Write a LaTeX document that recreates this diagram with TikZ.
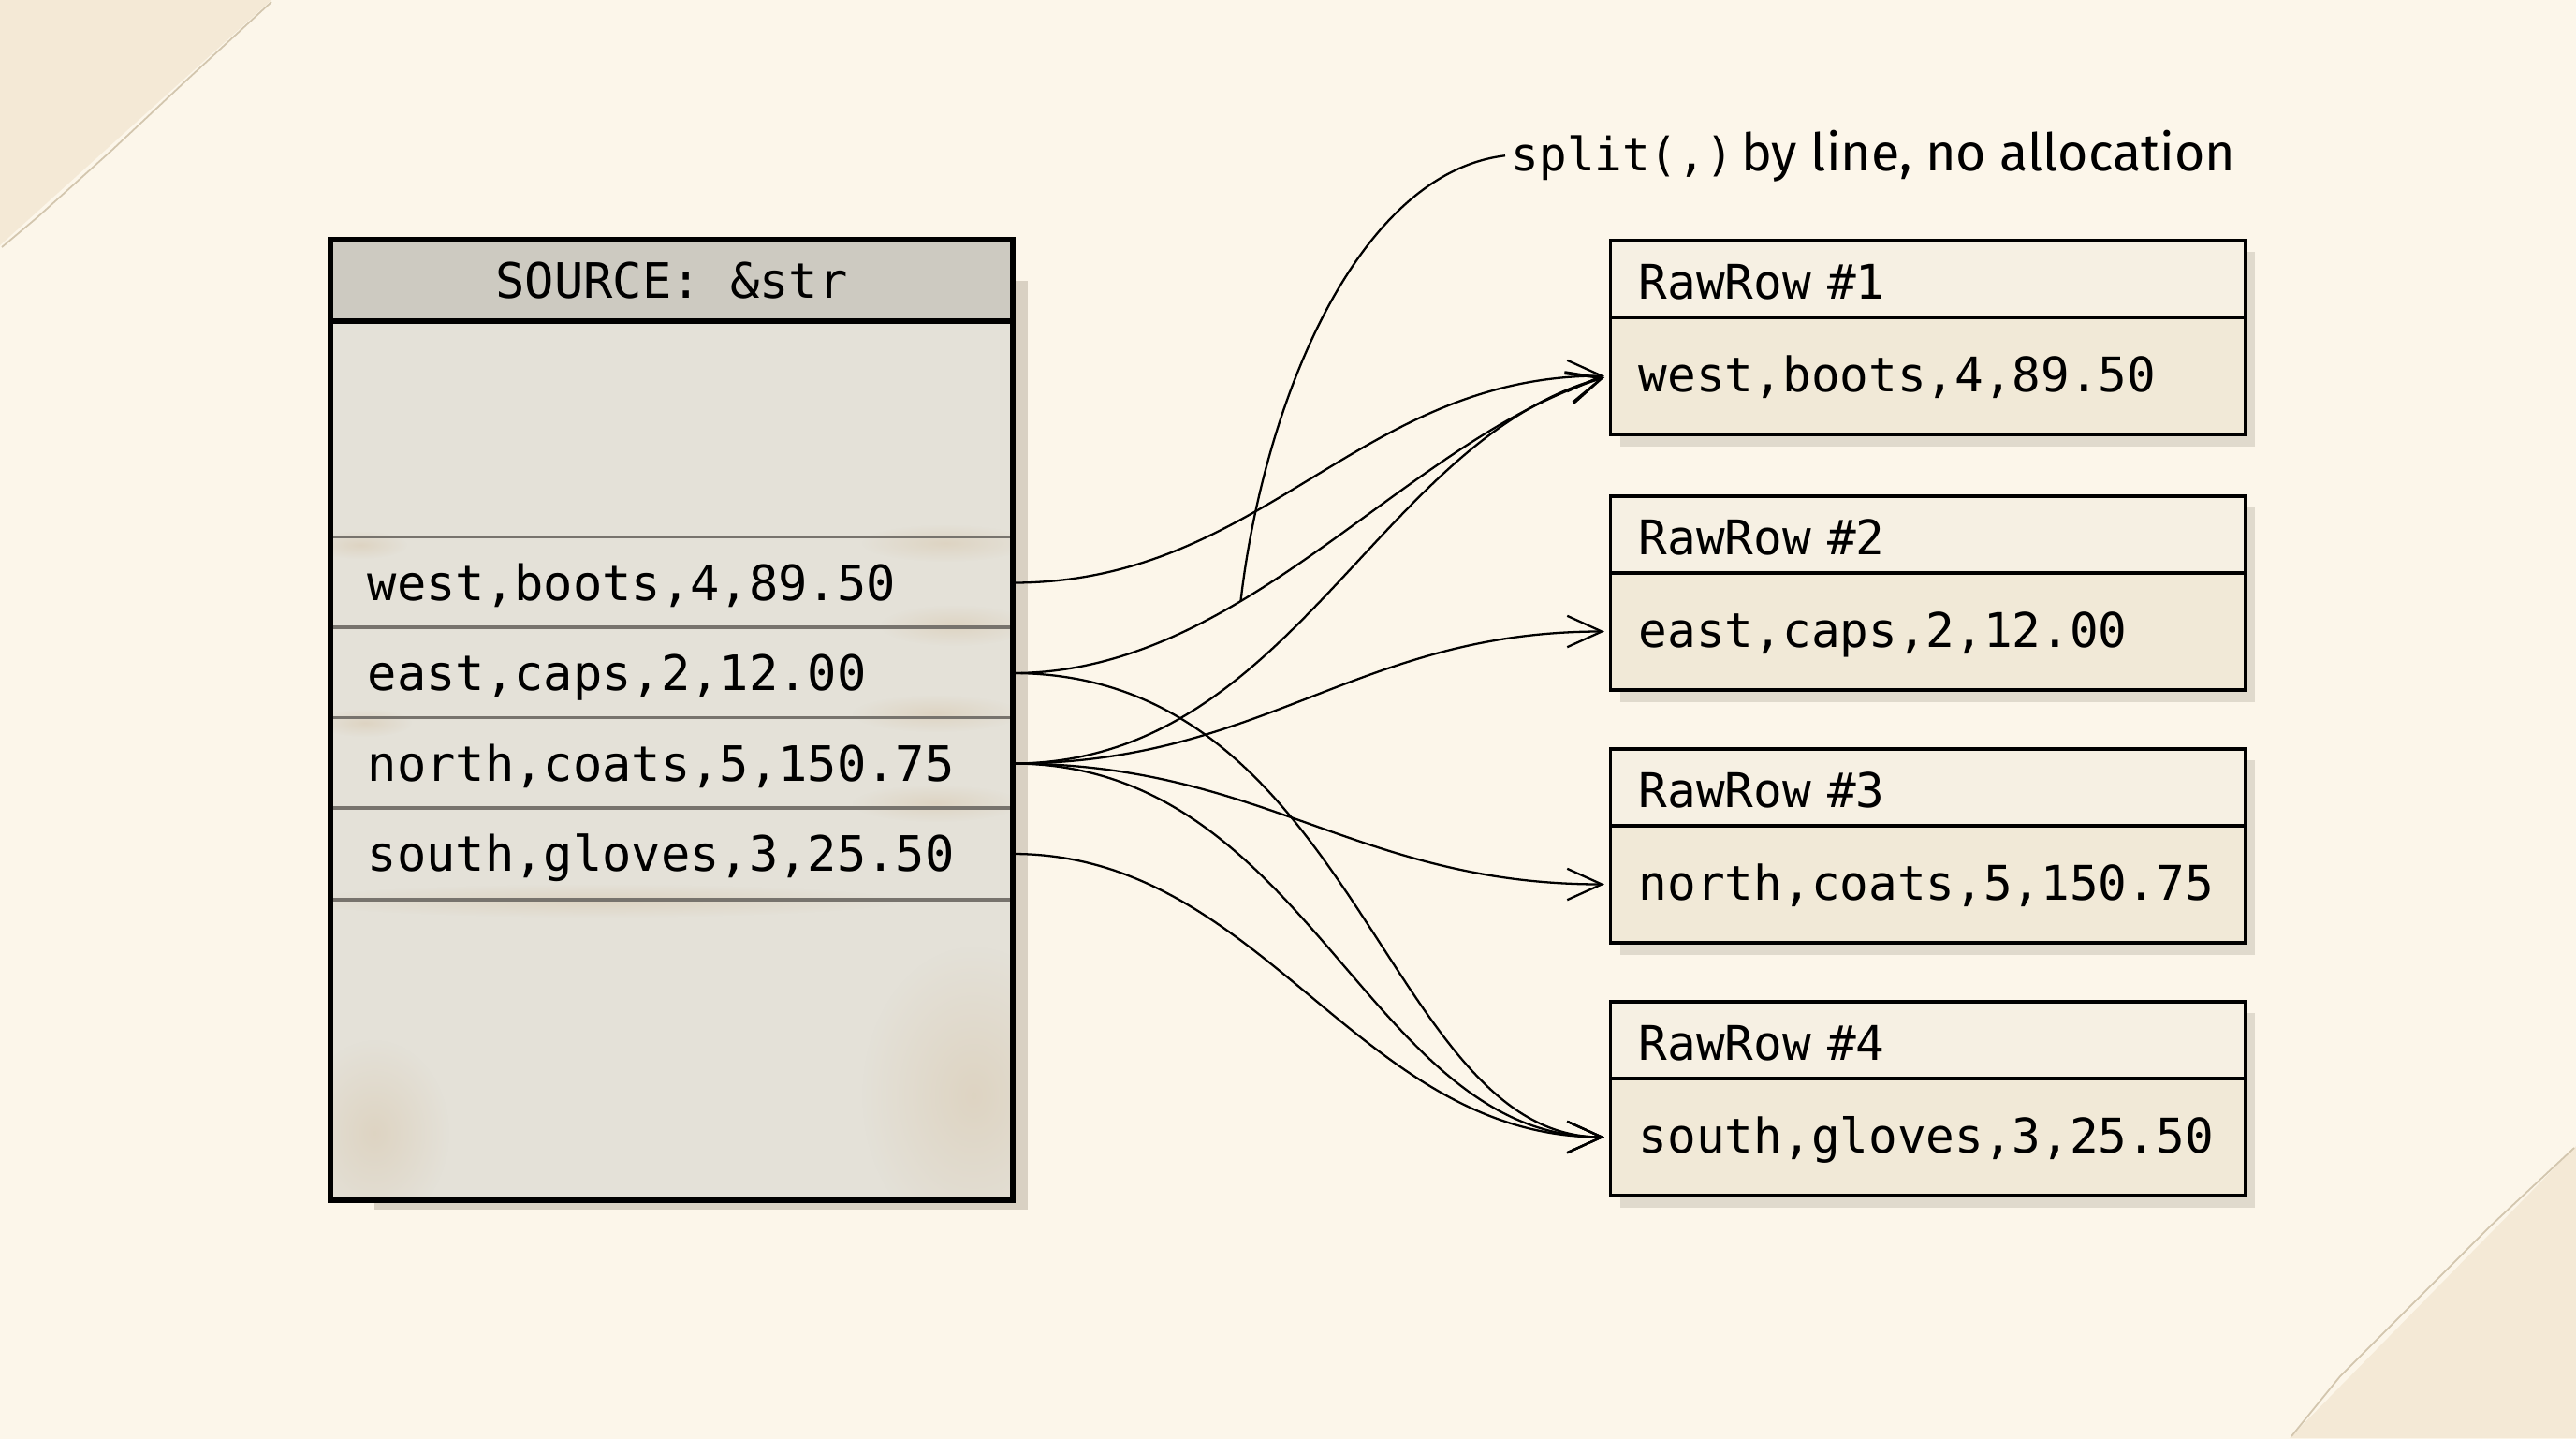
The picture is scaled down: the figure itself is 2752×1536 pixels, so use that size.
\documentclass[tikz,border=0pt]{standalone}
\usepackage{fontspec}
\setmonofont{DejaVu Sans Mono}
\newfontfamily\annsans{Fira Sans}
\usetikzlibrary{arrows.meta,fadings}
\definecolor{paperc}{HTML}{FCF6EA}
\definecolor{papere}{HTML}{F3E8D3}
\definecolor{paperk}{HTML}{E6D6B8}
\definecolor{foldc}{HTML}{EBDBBE}
\definecolor{creasec}{HTML}{D3C6AE}
\definecolor{srcbody}{HTML}{E4E1D8}
\definecolor{srchead}{HTML}{CDCAC1}
\definecolor{rowline}{HTML}{77736D}
\definecolor{stain}{HTML}{C8A676}
\definecolor{rawhead}{HTML}{F6F0E3}
\definecolor{rawdata}{HTML}{F1E9D7}
\definecolor{shadowc}{HTML}{D9D3C6}
\definecolor{srcshadow}{HTML}{D9D1C3}
\pgfdeclareradialshading{paper}{\pgfpoint{0bp}{0bp}}{color(0bp)=(paperc); color(38bp)=(paperc); color(50bp)=(papere); color(71bp)=(paperk)}
\tikzfading[name=fuzzy, inner color=transparent!0, outer color=transparent!100]
\tikzset{
  monofont/.style={font=\fontsize{14.8pt}{17pt}\selectfont\ttfamily},
  rawfont/.style={font=\fontsize{14.5pt}{17pt}\selectfont\ttfamily},
  rowcell/.style={monofont, minimum width=7.27cm, minimum height=0.965cm, inner xsep=0.39cm, inner ysep=0pt,
     text width=6.49cm, align=left, text height=0.53cm, text depth=0.16cm},
  srchd/.style={monofont, fill=srchead, minimum width=7.27cm, minimum height=0.85cm, inner sep=0pt,
     text height=0.53cm, text depth=0.16cm},
  rawhd/.style={rawfont, draw, line width=0.9pt, fill=rawhead, minimum width=6.77cm, minimum height=0.82cm,
     inner xsep=0.3cm, inner ysep=0pt, text width=6.17cm, align=left, text height=0.58cm, text depth=0.16cm},
  rawdt/.style={rawfont, draw, line width=0.9pt, fill=rawdata, minimum width=6.77cm, minimum height=1.25cm,
     inner xsep=0.3cm, inner ysep=0pt, text width=6.17cm, align=left, text height=0.49cm, text depth=0.16cm},
  conn/.style={draw, line width=0.65pt, -{Straight Barb[length=10.5pt,width=9.5pt]}, shorten >=1.5pt},
  leader/.style={draw, line width=0.65pt},
  sep/.style={draw=rowline, line width=0.9pt},
  frame/.style={draw, line width=1.6pt},
  stainblob/.style={fill=stain, opacity=0.22, path fading=fuzzy},
  shadowbox/.style={fill=shadowc, opacity=0.8},
}
\begin{document}
\begin{tikzpicture}[x=0.01cm,y=-0.01cm]
% paper
\useasboundingbox (0,0) rectangle (2752,1536);
\shade[shading=paper] (0,0) rectangle (2752,1536);
\fill[foldc, opacity=0.45] (0,0) -- (290,0) -- (0,262) -- cycle;
\fill[foldc, opacity=0.45] (2752,1224) -- (2752,1536) -- (2446,1536) -- cycle;
\draw[creasec, line width=0.5pt] (290,2) -- (200,85) -- (120,160) -- (40,232) -- (2,264);
\draw[creasec, line width=0.5pt] (2750,1226) -- (2660,1310) -- (2580,1390) -- (2500,1470) -- (2448,1534);

% source box
\fill[srcshadow] (1081,300) rectangle (1098,1292);
\fill[srcshadow] (400,1281) rectangle (1098,1292);
\node[fill=srcbody, minimum width=7.27cm, minimum height=10.24cm, inner sep=0pt] (src) at (717.5,769) {};
\begin{scope}
\clip (src.north west) rectangle (src.south east);
\fill[stainblob] (1010,580) ellipse [x radius=0.9cm, y radius=0.2cm];
\fill[stainblob] (385,582) ellipse [x radius=0.5cm, y radius=0.15cm];
\fill[stainblob] (1020,668) ellipse [x radius=0.8cm, y radius=0.22cm];
\fill[stainblob] (1000,762) ellipse [x radius=0.9cm, y radius=0.2cm];
\fill[stainblob] (390,772) ellipse [x radius=0.5cm, y radius=0.15cm];
\fill[stainblob] (1000,858) ellipse [x radius=0.9cm, y radius=0.2cm];
\fill[stainblob] (640,962) ellipse [x radius=3.2cm, y radius=0.18cm];
\fill[stainblob] (1040,1170) ellipse [x radius=1.2cm, y radius=1.6cm];
\fill[stainblob] (400,1210) ellipse [x radius=0.8cm, y radius=1.0cm];
\end{scope}
\node[srchd] (srch) at (717.5,299.5) {SOURCE: \&str};
\node[rowcell] (r1) at (717.5,622.5) {west,boots,4,89.50};
\node[rowcell] (r2) at (717.5,719) {east,caps,2,12.00};
\node[rowcell] (r3) at (717.5,815.5) {north,coats,5,150.75};
\node[rowcell] (r4) at (717.5,912) {south,gloves,3,25.50};
\draw[sep] (r1.north west) -- (r1.north east);
\draw[sep] (r2.north west) -- (r2.north east);
\draw[sep] (r3.north west) -- (r3.north east);
\draw[sep] (r4.north west) -- (r4.north east);
\draw[sep] (r4.south west) -- (r4.south east);
\draw[frame] (srch.south west) -- (srch.south east);
\draw[frame] (src.north west) rectangle (src.south east);

% RawRow boxes
\foreach \T in {257,530,800,1070} {
  \fill[shadowbox] (1731,\T+12) rectangle (2409,\T+220);
}
\node[rawhd] (h1) at (2059.5,298) {RawRow \#1};
\node[rawdt] (d1) at (2059.5,401.5) {west,boots,4,89.50};
\node[rawhd] (h2) at (2059.5,571) {RawRow \#2};
\node[rawdt] (d2) at (2059.5,674.5) {east,caps,2,12.00};
\node[rawhd] (h3) at (2059.5,841) {RawRow \#3};
\node[rawdt] (d3) at (2059.5,944.5) {north,coats,5,150.75};
\node[rawhd] (h4) at (2059.5,1111) {RawRow \#4};
\node[rawdt] (d4) at (2059.5,1214.5) {south,gloves,3,25.50};

% connectors
\draw[conn] (r1.east) .. controls (1350,622.5) and (1450,401.5) .. (d1.west);
\draw[conn] (r2.east) .. controls (1330,719) and (1500,470) .. coordinate[pos=0.36] (lj) (d1.west);
\draw[conn] (r3.east) .. controls (1380,815.5) and (1470,470) .. (d1.west);
\draw[conn] (r3.east) .. controls (1350,815.5) and (1450,674.5) .. (d2.west);
\draw[conn] (r3.east) .. controls (1350,815.5) and (1450,944.5) .. (d3.west);
\draw[conn] (r3.east) .. controls (1400,815.5) and (1460,1214.5) .. (d4.west);
\draw[conn] (r2.east) .. controls (1450,719) and (1480,1214.5) .. (d4.west);
\draw[conn] (r4.east) .. controls (1350,912) and (1450,1214.5) .. (d4.west);

% annotation
\node[anchor=base west, inner xsep=0.06cm, inner ysep=0.05cm] (ann) at (1608,182)
  {{\fontsize{14pt}{16pt}\selectfont\ttfamily split(,)}\hspace{-1pt} {\annsans\fontsize{15.8pt}{19pt}\selectfont by line, no allocation}};
\draw[leader] (lj) .. controls (1350,430) and (1450,185) .. (ann.west);
\end{tikzpicture}
\end{document}
